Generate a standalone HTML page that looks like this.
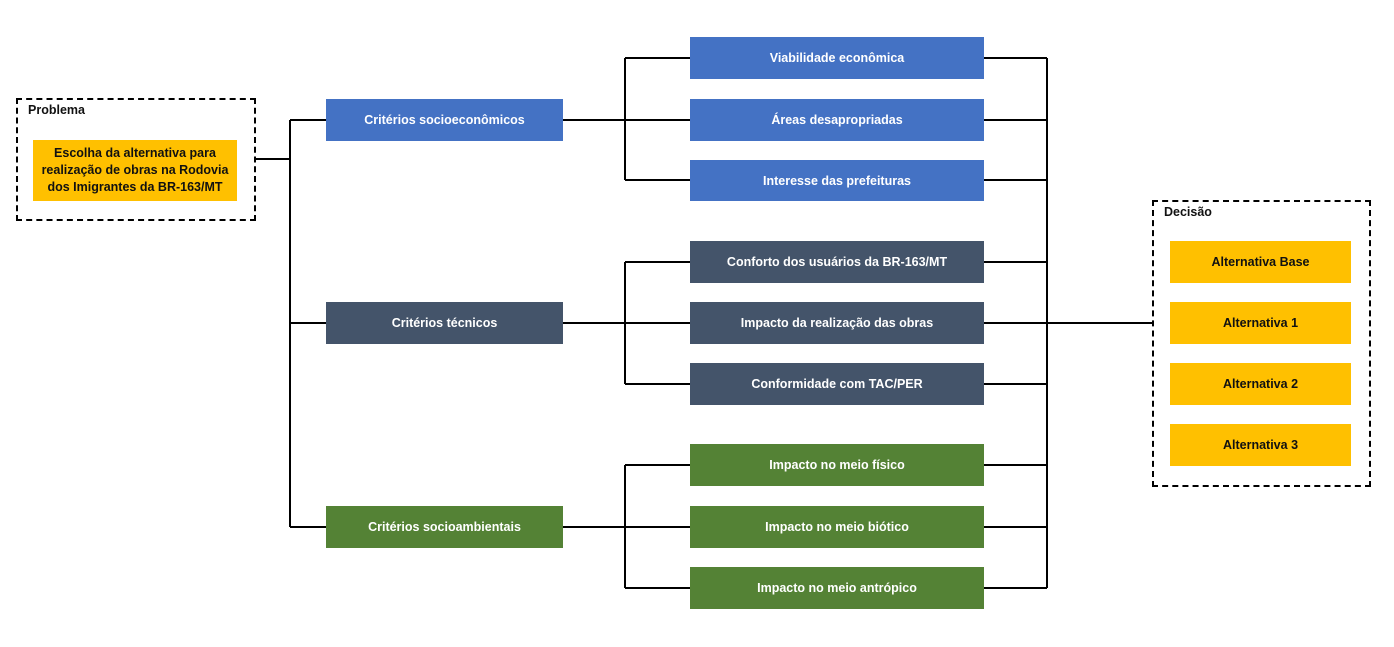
<!DOCTYPE html>
<html><head><meta charset="utf-8"><style>
body{margin:0;width:1394px;height:647px;background:#fff;position:relative;overflow:hidden;font-family:"Liberation Sans",sans-serif;}
.b{position:absolute;display:flex;align-items:center;justify-content:center;text-align:center;font-weight:bold;font-size:12.5px;color:#fff;box-sizing:border-box;}
.bl{background:#4472C4}.dk{background:#44546A}.gr{background:#548235}.or{background:#FFC000;color:#111}
.d{position:absolute;border:2px dashed #000;box-sizing:border-box}
.lab{position:absolute;font-weight:bold;font-size:12.5px;color:#111}
svg{position:absolute;left:0;top:0}
</style></head><body>
<svg width="1394" height="647" fill="none" stroke="#000" stroke-width="2">
<path d="M255 159H290M290 120V527M290 120H326M290 323H326M290 527H326"/>
<path d="M563 120H690M625 58V180M625 58H690M625 180H690"/>
<path d="M563 323H690M625 262V384M625 262H690M625 384H690"/>
<path d="M563 527H690M625 465V588M625 465H690M625 588H690"/>
<path d="M984 58H1047M984 120H1047M984 180H1047M984 262H1047M984 323H1047M984 384H1047M984 465H1047M984 527H1047M984 588H1047M1047 58V588M1047 323H1152"/>
</svg>
<div class="d" style="left:16px;top:98px;width:240px;height:123px"></div>
<div class="lab" style="left:28px;top:103px">Problema</div>
<div class="b or" style="left:33px;top:140px;width:204px;height:61px;line-height:17px">Escolha da alternativa para<br>realização de obras na Rodovia<br>dos Imigrantes da BR-163/MT</div>
<div class="b bl" style="left:326px;top:99px;width:237px;height:42px">Critérios socioeconômicos</div>
<div class="b dk" style="left:326px;top:302px;width:237px;height:42px">Critérios técnicos</div>
<div class="b gr" style="left:326px;top:506px;width:237px;height:42px">Critérios socioambientais</div>
<div class="b bl" style="left:690px;top:37px;width:294px;height:42px">Viabilidade econômica</div>
<div class="b bl" style="left:690px;top:99px;width:294px;height:42px">Áreas desapropriadas</div>
<div class="b bl" style="left:690px;top:160px;width:294px;height:41px">Interesse das prefeituras</div>
<div class="b dk" style="left:690px;top:241px;width:294px;height:42px">Conforto dos usuários da BR-163/MT</div>
<div class="b dk" style="left:690px;top:302px;width:294px;height:42px">Impacto da realização das obras</div>
<div class="b dk" style="left:690px;top:363px;width:294px;height:42px">Conformidade com TAC/PER</div>
<div class="b gr" style="left:690px;top:444px;width:294px;height:42px">Impacto no meio físico</div>
<div class="b gr" style="left:690px;top:506px;width:294px;height:42px">Impacto no meio biótico</div>
<div class="b gr" style="left:690px;top:567px;width:294px;height:42px">Impacto no meio antrópico</div>
<div class="d" style="left:1152px;top:200px;width:219px;height:287px;background:transparent"></div>
<div class="lab" style="left:1164px;top:205px">Decisão</div>
<div class="b or" style="left:1170px;top:241px;width:181px;height:42px">Alternativa Base</div>
<div class="b or" style="left:1170px;top:302px;width:181px;height:42px">Alternativa 1</div>
<div class="b or" style="left:1170px;top:363px;width:181px;height:42px">Alternativa 2</div>
<div class="b or" style="left:1170px;top:424px;width:181px;height:42px">Alternativa 3</div>
</body></html>
